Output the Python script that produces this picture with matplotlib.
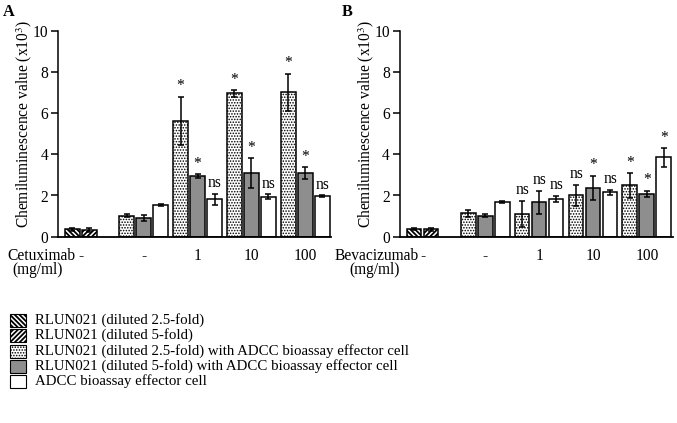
import numpy as np
import matplotlib
matplotlib.use('Agg')
import matplotlib.pyplot as plt
from matplotlib.patches import Rectangle

plt.rcParams['font.family'] = ['Liberation Serif', 'DejaVu Serif']
plt.rcParams['mathtext.fontset'] = 'stix'
plt.rcParams['hatch.linewidth'] = 1.3

series = ['RLUN021 (diluted 2.5-fold)',
          'RLUN021 (diluted 5-fold)',
          'RLUN021 (diluted 2.5-fold) with ADCC bioassay effector cell',
          'RLUN021 (diluted 5-fold) with ADCC bioassay effector cell',
          'ADCC bioassay effector cell']
doses = ['-', '1', '10', '100']

# panel A : cetuximab (values x10^3)
a_rlun = [0.35, 0.33]
a_rlun_err = [0.05, 0.08]
a_dot = [1.02, 5.63, 6.96, 7.01]
a_dot_err = [0.06, 1.17, 0.16, 0.90]
a_grey = [0.92, 2.95, 3.08, 3.08]
a_grey_err = [0.15, 0.08, 0.72, 0.28]
a_white = [1.52, 1.81, 1.94, 1.97]
a_white_err = [0.05, 0.27, 0.12, 0.05]
# significance marks for doses 1, 10, 100
a_sig_dot = ['*', '*', '*']
a_sig_grey = ['*', '*', '*']
a_sig_white = ['ns', 'ns', 'ns']

# panel B : bevacizumab
b_rlun = [0.37, 0.35]
b_rlun_err = [0.05, 0.07]
b_dot = [1.13, 1.12, 2.01, 2.49]
b_dot_err = [0.16, 0.63, 0.51, 0.60]
b_grey = [1.02, 1.67, 2.38, 2.09]
b_grey_err = [0.08, 0.57, 0.59, 0.14]
b_white = [1.67, 1.83, 2.15, 3.85]
b_white_err = [0.04, 0.16, 0.14, 0.45]
b_sig_dot = ['ns', 'ns', '*']
b_sig_grey = ['ns', '*', '*']
b_sig_white = ['ns', 'ns', '*']

FS = 10.7
GREY = '#8e8e8e'
styles = [dict(facecolor='white', hatch='\\\\\\\\\\\\\\'),
          dict(facecolor='white', hatch='///////'),
          dict(facecolor='white', hatch='......'),
          dict(facecolor=GREY, hatch=None),
          dict(facecolor='white', hatch=None)]
hatch_lw = [1.3, 1.3, 0.75, 1.0, 1.0]

W = 0.88
pair_x = np.array([0, 1])
group_c = 4.18 + 3.176 * np.arange(len(doses))

fig = plt.figure(figsize=(6.77, 4.23), dpi=100)


def panel(left, rlun, rlun_err, dot, dot_err, grey, grey_err, white, white_err,
          sig_dot, sig_grey, sig_white, drug, letter, drug_x, mg_x, letter_x):
    ax = fig.add_axes([left / 677, 1 - 236.7 / 423, 273 / 677, 206 / 423])
    ekw = dict(ecolor='black', capsize=2.5, error_kw=dict(elinewidth=1.1, capthick=1.1))
    for i in range(2):
        ax.bar(pair_x[i], rlun[i], W, yerr=rlun_err[i], edgecolor='black',
               linewidth=1.1, **styles[i], **ekw)
    vals = [dot, grey, white]
    errs = [dot_err, grey_err, white_err]
    sigs = [sig_dot, sig_grey, sig_white]
    for k in range(3):
        xs = group_c + (k - 1)
        with plt.rc_context({'hatch.linewidth': hatch_lw[k + 2]}):
            ax.bar(xs, vals[k], W, yerr=errs[k], edgecolor='black', linewidth=1.1,
                   **styles[k + 2], **ekw)
        for g in range(1, len(doses)):
            ax.text(xs[g], vals[k][g] + errs[k][g] + 0.12, sigs[k][g - 1],
                    ha='center', va='bottom', fontsize=FS + 0.5)

    ax.set_xlim(-0.853, 15.21)
    ax.set_ylim(0, 10)
    ax.set_yticks(range(0, 11, 2))
    ax.set_xticks([pair_x.mean()] + list(group_c))
    ax.set_xticklabels(['-'] + doses)
    ax.tick_params(axis='x', length=0, pad=8, labelsize=FS + 0.5)
    ax.tick_params(axis='y', length=5, width=1.1, direction='out', pad=2,
                   labelsize=FS + 0.5)
    for s in ['top', 'right']:
        ax.spines[s].set_visible(False)
    ax.spines['left'].set_linewidth(1.1)
    ax.spines['bottom'].set_linewidth(1.3)
    ax.set_ylabel('Chemiluminescence value (x10$^{3}$)', fontsize=FS + 0.5)
    ax.yaxis.set_label_coords(-0.087, 0.55)

    fig.text(drug_x / 677, 1 - 255.5 / 423, drug, ha='left', va='center', fontsize=FS + 0.5)
    fig.text(mg_x / 677, 1 - 270.5 / 423, '(mg/ml)', ha='center', va='center', fontsize=FS + 0.5)
    fig.text(letter_x / 677, 1 - 12 / 423, letter, ha='left', va='center',
             fontsize=FS + 1, fontweight='bold')
    return ax


panel(58, a_rlun, a_rlun_err, a_dot, a_dot_err, a_grey, a_grey_err, a_white, a_white_err,
      a_sig_dot, a_sig_grey, a_sig_white, 'Cetuximab', 'A', 7, 38, 3)
panel(399.5, b_rlun, b_rlun_err, b_dot, b_dot_err, b_grey, b_grey_err, b_white, b_white_err,
      b_sig_dot, b_sig_grey, b_sig_white, 'Bevacizumab', 'B', 335, 375, 342)

# legend drawn by hand in figure pixels
rows_y = [320, 335.5, 351, 366, 381]
for i, lab in enumerate(series):
    y = 1 - rows_y[i] / 423
    with plt.rc_context({'hatch.linewidth': hatch_lw[i]}):
        fig.add_artist(Rectangle((10 / 677, y - 6.5 / 423), 16 / 677, 13 / 423,
                                 transform=fig.transFigure, edgecolor='black',
                                 linewidth=0.8, **styles[i]))
    fig.text(35 / 677, y, lab, ha='left', va='center', fontsize=FS)

fig.savefig('out.png', dpi=100)
